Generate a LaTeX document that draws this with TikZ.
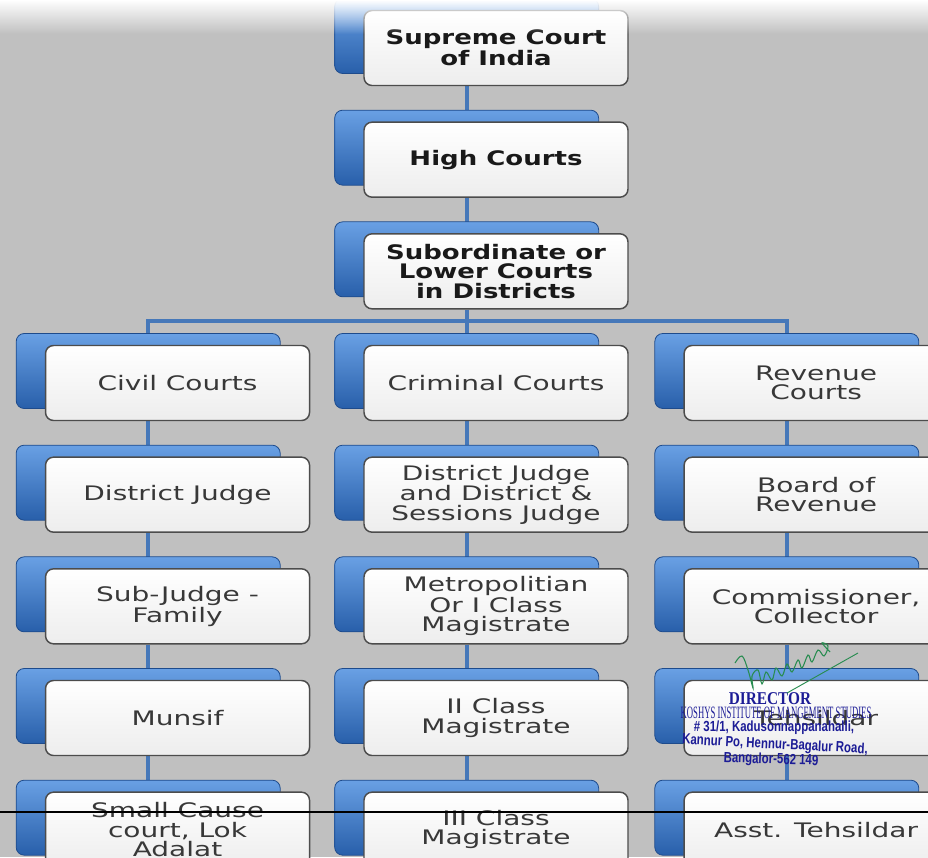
\documentclass[tikz,border=0pt]{standalone}
\usepackage{fontspec}
\newfontfamily\cardfont[FakeStretch=1.4]{DejaVu Sans}
\newfontfamily\headfont[FakeStretch=1.3]{DejaVu Sans}
\newfontfamily\stampserif[FakeStretch=0.85]{Liberation Serif}
\newfontfamily\stampcond[FakeStretch=0.5]{Liberation Serif}
\newfontfamily\stampsans[FakeStretch=0.78]{Liberation Sans}
\usepackage{xcolor}
\usepackage{tikz}
\usetikzlibrary{positioning,shadows,backgrounds,fadings}
\definecolor{bggray}{RGB}{192,192,192}
\definecolor{tabtop}{RGB}{105,160,228}
\definecolor{tabbot}{RGB}{40,95,170}
\definecolor{tabline}{RGB}{30,75,140}
\definecolor{linkblue}{RGB}{70,120,185}
\definecolor{stampblue}{RGB}{28,28,150}
\definecolor{signgreen}{RGB}{40,140,80}
\tikzfading[name=hazedown,top color=transparent!0,middle color=transparent!15,bottom color=transparent!100]

\begin{document}
\begin{tikzpicture}[x=0.75pt,y=-0.75pt,node distance=26.4pt,
  card/.style={draw=black!70,line width=1.1pt,rounded corners=6pt,
    top color=white,bottom color=black!7,
    minimum width=198pt,minimum height=56.25pt,inner sep=2pt,align=center,
    text=black!78,font=\cardfont\fontsize{15}{14.5}\selectfont,
    general shadow={shadow xshift=-22pt,shadow yshift=9pt,
      top color=tabtop,bottom color=tabbot,draw=tabline,line width=0.6pt}},
  head/.style={card,text=black!90,font=\headfont\bfseries\fontsize{15}{14.5}\selectfont},
  link/.style={draw=linkblue,line width=3.2pt},
  stamp/.style={text=stampblue,inner sep=0pt}]
\useasboundingbox (0,0) rectangle (928,857);

% top of the hierarchy
\node[head] (sup) at (496,48) {Supreme Court\\of India};
\node[head,below=of sup] (hc) {High Courts};
\node[head,below=of hc] (sub) {Subordinate or\\Lower Courts\\in Districts};

% the three branches
\node[card,below=of sub] (crim) {Criminal Courts};
\node[card,left=39.75pt of crim] (civ) {Civil Courts};
\node[card,right=41pt of crim] (rev) {Revenue\\Courts};

\node[card,below=of civ] (dj) {District Judge};
\node[card,below=of dj] (sj) {Sub-Judge -\\Family};
\node[card,below=of sj] (mun) {Munsif};
\node[card,below=of mun] (scc) {Small Cause\\court, Lok\\Adalat};

\node[card,below=of crim] (djs) {District Judge\\and District \&\\Sessions Judge};
\node[card,below=of djs] (met) {Metropolitian\\Or I Class\\Magistrate};
\node[card,below=of met] (mag2) {II Class\\Magistrate};
\node[card,below=of mag2] (mag3) {III Class\\Magistrate};

\node[card,below=of rev] (bor) {Board of\\Revenue};
\node[card,below=of bor] (com) {Commissioner,\\Collector};
\node[card,below=of com] (teh) {Tehsildar};
\node[card,below=of teh] (ateh) {Asst. Tehsildar};

\begin{scope}[on background layer]
\fill[bggray] (0,0) rectangle (928,857);
\foreach \a/\b in {sup/hc,hc/sub,civ/dj,dj/sj,sj/mun,mun/scc,crim/djs,djs/met,
    met/mag2,mag2/mag3,rev/bor,bor/com,com/teh,teh/ateh}
  \draw[link] ([xshift=-22pt]\a.south) -- ([xshift=-22pt]\b.north);
\coordinate (bus) at ([xshift=-22pt,yshift=-8.5pt]sub.south);
\draw[link] ([xshift=-22pt]sub.south) -- (bus) -- ([xshift=-22pt]crim.north);
\draw[link] ([xshift=-22pt]civ.north) |- (bus) -| ([xshift=-22pt]rev.north);
\end{scope}

% haze at the top and the rule near the bottom
\fill[white,path fading=hazedown] (0,0) rectangle (928,34);
\draw[line width=1.6pt] (0,812) -- (928,812);

% stamp
\node[stamp,font=\stampserif\bfseries\fontsize{13.5}{14}\selectfont] (dir) at (770,699) {DIRECTOR};
\node[stamp,font=\stampcond\fontsize{13}{13}\selectfont] (inst) at (776,713) {KOSHYS INSTITUTE OF MANGEMENT STUDIES};
\node[stamp,font=\stampsans\bfseries\fontsize{11}{11}\selectfont] (addr) at (774,728) {\# 31/1, Kadusonnappanahalli,};
\node[stamp,font=\stampsans\bfseries\fontsize{11}{11}\selectfont,rotate=-3] (road) at (775,745) {Kannur Po, Hennur-Bagalur Road,};
\node[stamp,font=\stampsans\bfseries\fontsize{11}{11}\selectfont,rotate=-2] (pin) at (771,760) {Bangalor-562 149};
\draw[signgreen,line width=0.8pt] plot[smooth,tension=0.6] coordinates {(735,663) (742,656) (748,670)
  (753,688) (752,676) (758,670) (762,684) (766,672) (772,680) (776,668) (782,676) (787,664)
  (792,672) (798,660) (802,668) (808,655) (812,662) (818,650) (824,656) (828,646) (822,643) (830,652)};
\draw[signgreen,line width=0.7pt] (858,653) -- (787,693);
\end{tikzpicture}
\end{document}
